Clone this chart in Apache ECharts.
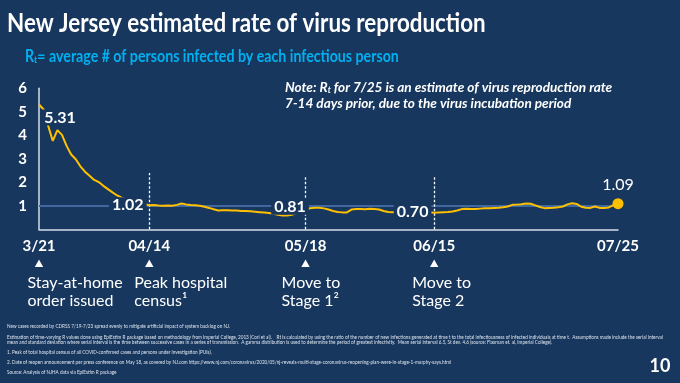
<!DOCTYPE html>
<html>
<head>
<meta charset="utf-8">
<script src="https://cdn.jsdelivr.net/npm/echarts@6/dist/echarts.min.js"></script>
<style>
html,body{margin:0;padding:0;background:#17375E;}
#c{width:680px;height:383px;}
</style>
</head>
<body>
<div id="c"></div>
<script>
// ---------------- DATA ----------------
const startYear = 2020, startMonth = 3, startDay = 21;   // first day of the series (3/21)
const rtValues = [
  5.31, 5.10, 4.40, 3.76, 4.22, 4.02, 3.55, 3.18, 2.98, 2.68,
  2.45, 2.28, 2.10, 2.01, 1.85, 1.71, 1.57, 1.44, 1.35, 1.27,
  1.20, 1.14, 1.10, 1.07, 1.02, 1.03, 1.01, 1.00, 1.01, 1.00,
  1.04, 1.10, 1.06, 1.03, 1.02, 1.00, 0.96, 0.91, 0.85, 0.80,
  0.81, 0.81, 0.80, 0.80, 0.78, 0.78, 0.77, 0.75, 0.73, 0.71,
  0.69, 0.66, 0.62, 0.59, 0.59, 0.62, 0.68, 0.76, 0.81, 0.90,
  0.92, 0.92, 0.89, 0.84, 0.78, 0.74, 0.72, 0.72, 0.84, 0.86,
  0.86, 0.85, 0.87, 0.86, 0.84, 0.78, 0.74, 0.73, 0.72, 0.71,
  0.70, 0.70, 0.70, 0.71, 0.72, 0.73, 0.70, 0.72, 0.73, 0.74,
  0.76, 0.80, 0.86, 0.87, 0.86, 0.86, 0.88, 0.90, 0.90, 0.91,
  0.92, 0.94, 0.97, 1.04, 1.05, 1.07, 1.10, 1.09, 1.02, 0.95,
  0.90, 0.91, 0.92, 0.94, 0.97, 1.06, 1.11, 1.08, 0.96, 0.92,
  0.91, 0.97, 0.91, 0.91, 0.93, 1.03, 1.09
];
const tickDates = ['3/21', '4/14', '5/18', '6/15', '7/25'];
const tickTexts = ['3/21', '04/14', '05/18', '06/15', '07/25'];
const yTickValues = [1, 2, 3, 4, 5, 6];
const referenceLevel = 1;
const labelDates = ['3/21', '4/14', '5/18', '6/15', '7/25'];
const markerDates = ['4/14', '5/18', '6/15'];
const eventDates = ['3/21', '4/14', '5/18', '6/15'];
const eventTexts = ['Stay-at-home\norder issued', 'Peak hospital\ncensus\u00b9', 'Move to\nStage 1\u00b2', 'Move to\nStage 2'];
const titleText = 'New Jersey estimated rate of virus reproduction';
const footnotes = [
  'New cases recorded by CDRSS 7/19-7/23 spread evenly to mitigate artificial impact of system backlog on NJ.',
  'Estimation of time-varying R values done using EpiEstim R package based on methodology from Imperial College, 2013 (Cori et al).    Rt is calculated by using the ratio of the number of new infections generated at time t to the total infectiousness of infected individuals at time t.  Assumptions made include the serial interval',
  'mean and standard deviation where serial interval is the time between successive cases in a series of transmission.  A gamma distribution is used to determine the period of greatest infectivity.  Mean serial interval 6.5, St dev. 4.6 (source: Flaxman et. al, Imperial College).',
  '1. Peak of total hospital census of all COVID-confirmed cases and persons under investigation (PUIs).',
  '2. Date of reopen announcement per press conference on May 18, as covered by NJ.com https://www.nj.com/coronavirus/2020/05/nj-reveals-multi-stage-coronavirus-reopening-plan-were-in-stage-1-murphy-says.html',
  'Source: Analysis of NJHA data via EpiEstim R package'
];

// ---------------- STYLE ----------------
const BG = '#17375E';
const GOLD = '#FFC000';
const REF_BLUE = '#40679F';
const AXIS = '#D6DEE8';
const FONT = 'Lato, "Open Sans", sans-serif';
const labelOffsets = [[21, 13], [-21.5, 0], [-15.5, -3.6], [-21.6, -0.8], [0, -18.7]];
const markerTops = [2.4, 2.27, 2.27];
const eventTextDx = [-11.5, -15, -24, -22];
const footnoteLongestWidth = 656;   // width of the widest footnote line on the slide

// categories built from the start date
const categories = [];
for (let i = 0; i < rtValues.length; i++) {
  const d = new Date(startYear, startMonth - 1, startDay + i);
  categories.push((d.getMonth() + 1) + '/' + d.getDate());
}

const chart = echarts.init(document.getElementById('c'), null, {renderer: 'canvas'});

const labelPoints = labelDates.map((d, i) => {
  const last = i === labelDates.length - 1;
  return {
    value: [d, rtValues[categories.indexOf(d)]],
    symbolSize: last ? 11 : 1,
    itemStyle: {color: last ? GOLD : 'rgba(0,0,0,0)', opacity: 1},
    label: {
      offset: labelOffsets[i],
      fontWeight: last ? 'normal' : 'bold',
      backgroundColor: last ? 'transparent' : BG
    }
  };
});

const option = {
  backgroundColor: BG,
  animation: false,
  textStyle: {fontFamily: FONT},
  grid: {left: 39, right: 62, top: 88.3, bottom: 153.7, outerBoundsMode: 'none', containLabel: false},
  xAxis: {
    type: 'category',
    data: categories,
    boundaryGap: false,
    axisLine: {lineStyle: {color: AXIS, width: 1.5}},
    axisTick: {show: false},
    splitLine: {show: false},
    axisLabel: {
      interval: (idx, val) => tickDates.includes(val),
      formatter: v => tickTexts[tickDates.indexOf(v)] || '',
      color: '#FFFFFF', fontFamily: FONT, fontWeight: 'bold', fontSize: 15, margin: 9
    }
  },
  yAxis: {
    type: 'value', min: 0, max: 6, interval: 1,
    axisLine: {show: true, lineStyle: {color: AXIS, width: 1.5}},
    axisTick: {show: false},
    splitLine: {show: false},
    axisLabel: {
      formatter: v => yTickValues.includes(v) ? String(v) : '',
      color: '#FFFFFF', fontFamily: FONT, fontWeight: 'bold', fontSize: 15, margin: 12
    }
  },
  series: [
    {
      type: 'line',
      name: 'Rt',
      data: rtValues,
      z: 3,
      showSymbol: false,
      symbol: 'none',
      lineStyle: {color: GOLD, width: 2},
      silent: true,
      markLine: {
        z: 1,
        silent: true,
        symbol: ['none', 'none'],
        label: {show: false},
        data: [
          {yAxis: referenceLevel, lineStyle: {color: REF_BLUE, width: 2, type: 'solid'}}
        ].concat(markerDates.map((d, i) => [
          {coord: [d, 0], lineStyle: {color: '#FFFFFF', width: 1.3, type: [2.5, 2]}},
          {coord: [d, markerTops[i]]}
        ]))
      }
    },
    {
      type: 'scatter',
      name: 'labels',
      z: 10,
      silent: true,
      data: labelPoints,
      itemStyle: {opacity: 1},
      label: {
        show: true,
        position: 'inside',
        formatter: p => p.value[1].toFixed(2),
        color: '#FFFFFF',
        opacity: 1,
        fontFamily: FONT,
        fontSize: 16,
        lineHeight: 16,
        padding: [0, 3]
      }
    }
  ]
};
chart.setOption(option);

// annotations positioned from the library's own scale
const graphics = [];
graphics.push({
  type: 'text', x: 7, y: 24, scaleX: 0.86,
  style: {text: titleText, fill: '#FFFFFF', font: 'bold 26px ' + FONT, verticalAlign: 'middle'}
});
graphics.push({
  type: 'text', x: 25, y: 45, scaleX: 0.86,
  style: {
    text: '{a|R}{s|t}{a|= average # of persons infected by each infectious person}',
    fill: '#00B0F0',
    rich: {
      a: {fontFamily: FONT, fontWeight: 'bold', fontSize: 16.5, lineHeight: 20, fill: '#00B0F0', verticalAlign: 'bottom'},
      s: {fontFamily: FONT, fontWeight: 'bold', fontSize: 10, lineHeight: 8, fill: '#00B0F0', verticalAlign: 'bottom'}
    }
  }
});
graphics.push({
  type: 'text', x: 285, y: 79,
  style: {
    text: '{a|Note: R}{s|t}{a| for 7/25 is an estimate of virus reproduction rate}\n{a|7-14 days prior, due to the virus incubation period}',
    fill: '#FFFFFF',
    rich: {
      a: {fontFamily: FONT, fontWeight: 'bold', fontStyle: 'italic', fontSize: 13.6, lineHeight: 16, fill: '#FFFFFF', verticalAlign: 'bottom'},
      s: {fontFamily: FONT, fontWeight: 'bold', fontStyle: 'italic', fontSize: 8.5, lineHeight: 6, fill: '#FFFFFF', verticalAlign: 'bottom'}
    }
  }
});
eventDates.forEach((d, i) => {
  const idx = categories.indexOf(d);
  const p = chart.convertToPixel({gridIndex: 0}, [idx, 0]);
  const x = p[0];
  graphics.push({
    type: 'polygon',
    shape: {points: [[x - 4.2, 267], [x + 4.2, 267], [x, 259.5]]},
    style: {fill: '#FFFFFF'}
  });
  graphics.push({
    type: 'text', x: x + eventTextDx[i], y: 274,
    style: {text: eventTexts[i], fill: '#FFFFFF', font: '16px ' + FONT, lineHeight: 17.7}
  });
});

// footnotes: drawn at 10px and scaled uniformly so the widest line fits the slide width
const FOOT_FONT = '10px ' + FONT;
const ctx = document.createElement('canvas').getContext('2d');
ctx.font = FOOT_FONT;
const widest = Math.max.apply(null, footnotes.map(t => ctx.measureText(t).width));
const fScale = Math.min(0.55, footnoteLongestWidth / widest);
const footY = [326, 337, 342, 352, 362, 372];
footnotes.forEach((t, i) => {
  graphics.push({
    type: 'text', x: 7, y: footY[i], scaleX: fScale, scaleY: Math.max(fScale, 0.48),
    style: {text: t, fill: '#DCE3EC', font: FOOT_FONT, verticalAlign: 'middle'}
  });
});
graphics.push({
  type: 'text', x: 660, y: 366,
  style: {text: '10', fill: '#FFFFFF', font: 'bold 18px ' + FONT, align: 'center', verticalAlign: 'middle'}
});
chart.setOption({graphic: graphics});
</script>
</body>
</html>
